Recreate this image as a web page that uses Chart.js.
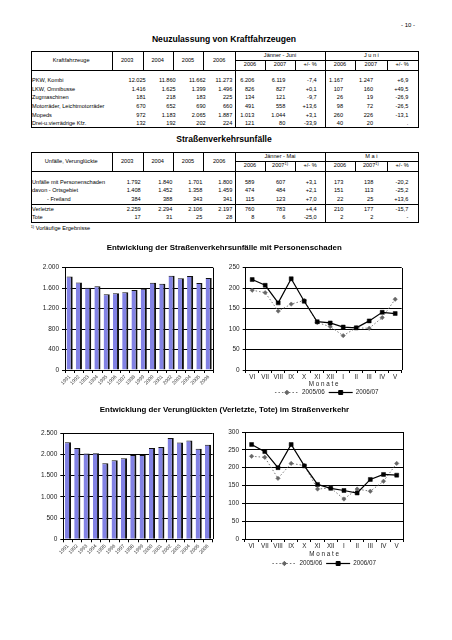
<!DOCTYPE html>
<html><head><meta charset="utf-8">
<script src="https://cdn.jsdelivr.net/npm/chart.js@4.4.1/dist/chart.umd.min.js"></script>
<style>
html,body{margin:0;padding:0;background:#fff;}
body{width:452px;height:640px;position:relative;overflow:hidden;font-family:"Liberation Sans",Arial,sans-serif;color:#000;}
.t{position:absolute;white-space:nowrap;line-height:1;}
.ln{position:absolute;background:#000;}
canvas{position:absolute;}
sup{font-size:70%;vertical-align:top;position:relative;top:-1px;}
</style></head><body>
<canvas id="cA" width="230" height="150" style="left:0;top:250px;"></canvas>
<canvas id="cB" width="230" height="160" style="left:222px;top:250px;"></canvas>
<canvas id="cC" width="230" height="160" style="left:0;top:420px;"></canvas>
<canvas id="cD" width="230" height="160" style="left:222px;top:420px;"></canvas>
<script>
// ---------- DATA ----------
const years = ['1991','1992','1993','1994','1995','1996','1997','1998','1999','2000','2001','2002','2003','2004','2005','2006'];
const unfaelleJahr = [1830,1712,1610,1635,1480,1500,1518,1562,1590,1707,1688,1843,1792,1840,1701,1800];
const verunglueckteJahr = [2280,2150,2020,2025,1790,1860,1905,1985,1980,2145,2170,2380,2276,2325,2131,2225];
const months = ['VI','VII','VIII','IX','X','XI','XII','I','II','III','IV','V'];
const unfaelle0506 = [195,189,144,161,170,116,106,84,103,102,128,173];
const unfaelle0607 = [221,207,164,223,168,118,115,105,103,120,141,138];
const verungl0506 = [232,229,170,212,206,140,143,112,140,134,162,212];
const verungl0607 = [265,245,200,265,205,153,142,136,129,167,181,179];
const seriesLabels = ['2005/06','2006/07'];

const kfzHead = ['2003','2004','2005','2006'];
const kfzLabels = ['PKW, Kombi','LKW, Omnibusse','Zugmaschinen','Motorräder, Leichtmotorräder','Mopeds','Drei-u.vierrädrige Kfz.'];
const kfzValues = [
 ['12.025','11.860','11.662','11.273','6.206','6.119','-7,4','1.167','1.247','+6,9'],
 ['1.416','1.625','1.399','1.496','826','827','+0,1','107','160','+49,5'],
 ['181','218','183','225','134','121','-9,7','26','19','-26,9'],
 ['670','652','690','660','491','558','+13,6','98','72','-26,5'],
 ['972','1.183','2.065','1.887','1.013','1.044','+3,1','260','226','-13,1'],
 ['132','192','202','224','121','80','-33,9','40','20','.']
];
const unfLabels = ['Unfälle mit Personenschaden','davon - Ortsgebiet','- Freiland','Verletzte','Tote'];
const unfValues = [
 ['1.792','1.840','1.701','1.800','589','607','+3,1','173','138','-20,2'],
 ['1.408','1.452','1.358','1.459','474','484','+2,1','151','113','-25,2'],
 ['384','388','343','341','115','123','+7,0','22','25','+13,6'],
 ['2.259','2.294','2.106','2.197','760','783','+4,4','210','177','-15,7'],
 ['17','31','25','28','8','6','-25,0','2','2','-']
];

// ---------- PAGE TEXT / TABLES ----------
const FAM = "'Liberation Sans', Arial, sans-serif";
function T(html, x, y, size, align, bold, extra){
  const d = document.createElement('div');
  d.className = 't';
  d.innerHTML = html;
  d.style.fontSize = size + 'px';
  d.style.top = (y - size*0.49) + 'px';
  if (bold) d.style.fontWeight = 'bold';
  if (align === 'right') { d.style.right = (452 - x) + 'px'; }
  else if (align === 'center') { d.style.left = x + 'px'; d.style.transform = 'translateX(-50%)'; }
  else d.style.left = x + 'px';
  if (extra) Object.assign(d.style, extra);
  document.body.appendChild(d);
}
function L(x, y, w, h){
  const d = document.createElement('div'); d.className = 'ln';
  d.style.left = x + 'px'; d.style.top = y + 'px'; d.style.width = w + 'px'; d.style.height = h + 'px';
  document.body.appendChild(d);
}
const colX = [30.7,111.7,142.7,172.7,203.3,235,265,295,325,355,386.7,417.7];

function table(o){
  const {top, sub, hb, bottom, headLabel, p1, p2, sup, rowY, labels, values, rightX, labelX, sep} = o;
  const fs = 5.6;
  L(colX[0], top, colX[11]-colX[0], 1);
  L(colX[0], bottom, colX[11]-colX[0]+1, 1);
  L(colX[0], top, 1, bottom-top);
  L(colX[11], top, 1, bottom-top);
  L(colX[0], hb, colX[11]-colX[0], 1);
  L(colX[5], sub, colX[11]-colX[5], 1);
  for (const i of [1,2,3,4]) L(colX[i], top, 1, hb-top);
  for (const i of [5,8]) L(colX[i], top, 1, bottom-top);
  for (const i of [6,7,9,10]) L(colX[i], sub, 1, hb-sub);
  if (sep) L(colX[0], sep, colX[11]-colX[0], 1);
  const mid = (top+hb)/2, m1 = (top+sub)/2, m2 = (sub+hb)/2;
  T(headLabel, (colX[0]+colX[1])/2, mid, fs, 'center');
  kfzHead.forEach((h,i)=>T(h, (colX[i+1]+colX[i+2])/2, mid, fs, 'center'));
  T(p1, (colX[5]+colX[8])/2, m1, fs, 'center');
  T(p2, (colX[8]+colX[11])/2, m1, fs, 'center');
  const subh = ['2006', '2007'+(sup?'<sup>1)</sup>':''), '+/- %'];
  for (let k=0;k<2;k++) subh.forEach((h,i)=>T(h, (colX[5+3*k+i]+colX[6+3*k+i])/2, m2, fs, 'center'));
  labels.forEach((lb,r)=>{
    T(lb, labelX[r], rowY[r], fs, 'left');
    values[r].forEach((v,c)=>T(v, rightX[c], rowY[r], fs, 'right'));
  });
}

T('- 10 -', 415, 25, 6, 'right');
T('Neuzulassung von Kraftfahrzeugen', 224, 39.5, 8.6, 'center', true);
table({top:50.7, sub:60, hb:70, bottom:127.3, headLabel:'Kraftfahrzeuge', p1:'Jänner - Juni', p2:'J u n i', sup:false,
  rowY:[81,89.6,98.2,106.8,115.4,124], labels:kfzLabels, values:kfzValues,
  rightX:[145.7,175.7,205.7,232.3,254.3,285.3,316.7,343,373,408.3], labelX:[32,32,32,32,32,32]});
T('Straßenverkehrsunfälle', 224, 139.3, 8.6, 'center', true);
table({top:151.7, sub:161, hb:171, bottom:222.3, headLabel:'Unfälle, Verunglückte', p1:'Jänner - Mai', p2:'M a i', sup:true,
  rowY:[182.3,190.7,199.3,209.3,217.7], labels:unfLabels, values:unfValues, sep:204.3,
  rightX:[140.7,172.3,202.3,232.3,254.3,285.3,316.7,343.3,373.3,408.3], labelX:[32,32,47,32,32]});
T('<sup>1)</sup> Vorläufige Ergebnisse', 30.7, 229, 5.6, 'left');
T('Entwicklung der Straßenverkehrsunfälle mit Personenschaden', 224.2, 248.3, 7.9, 'center', true);
T('Entwicklung der Verunglückten (Verletzte, Tote) im Straßenverkehr', 224.5, 410, 7.9, 'center', true);

// ---------- CHARTS ----------
const fmt = v => v >= 1000 ? Math.floor(v/1000) + '.' + String(v%1000).padStart(3,'0') : String(v);
const frame = {id:'frame', afterDraw(chart){
  const {ctx, chartArea:a} = chart;
  ctx.save(); ctx.strokeStyle = '#000'; ctx.lineWidth = 1;
  const x = Math.round(a.right) + 0.5;
  ctx.beginPath(); ctx.moveTo(x, Math.round(a.top)); ctx.lineTo(x, Math.round(a.bottom)); ctx.stroke();
  ctx.restore();
}};
const lineLegend = {id:'lineLegend', afterDraw(chart, args, opts){
  const {ctx, chartArea:a} = chart;
  const y = Math.round(chart.scales.x.bottom + opts.dy) + 0.5;
  ctx.save();
  ctx.font = '6.3px ' + FAM; ctx.textBaseline = 'middle'; ctx.fillStyle = '#222';
  const dss = chart.data.datasets;
  const ws = dss.map(d=>ctx.measureText(d.label).width);
  const seg = opts.seg, gap = 3, between = 4;
  const total = ws.reduce((s,w)=>s+seg+gap+w,0) + between*(dss.length-1);
  let x = (a.left+a.right)/2 - total/2 + opts.dx;
  dss.forEach((d,i)=>{
    ctx.strokeStyle = d.borderColor; ctx.lineWidth = d.borderWidth; ctx.setLineDash(d.borderDash || []);
    ctx.beginPath(); ctx.moveTo(x, y); ctx.lineTo(x+seg, y); ctx.stroke(); ctx.setLineDash([]);
    ctx.fillStyle = d.pointBackgroundColor; ctx.strokeStyle = d.pointBorderColor; ctx.lineWidth = 1;
    Chart.helpers.drawPoint(ctx, {pointStyle:d.pointStyle, radius:d.pointRadius, borderWidth:1, rotation:0}, x+seg/2, y);
    x += seg + gap;
    ctx.fillStyle = '#222'; ctx.fillText(d.label, x, y);
    x += ws[i] + between;
  });
  ctx.restore();
}};

function barChart(id, data, max, step, pad, yW, xH){
  new Chart(document.getElementById(id), {
    type:'bar',
    data:{labels:years, datasets:[{data, backgroundColor:'#8282e4', borderColor:'#111',
      borderWidth:{top:1,right:2,left:0,bottom:0}, borderSkipped:false, barPercentage:0.66, categoryPercentage:1}]},
    options:{
      responsive:false, animation:false, devicePixelRatio:1,
      layout:{padding:pad},
      plugins:{legend:{display:false}, tooltip:{enabled:false}},
      scales:{
        x:{grid:{display:true, drawOnChartArea:false, drawTicks:true, tickLength:3, color:'#000', offset:true},
           border:{display:true, color:'#000'},
           ticks:{font:{size:5, family:FAM}, color:'#333', minRotation:45, maxRotation:45, autoSkip:false, padding:1},
           afterFit:s=>{s.height = xH;}},
        y:{min:0, max, ticks:{stepSize:step, font:{size:6.5, family:FAM}, color:'#222', padding:3, callback:v=>fmt(v)},
           grid:{color:'#000', lineWidth:1, tickLength:3}, border:{display:true, color:'#000'},
           afterFit:s=>{s.width = yW;}}
      }
    },
    plugins:[frame]
  });
}
function lineChart(id, a, b, max, pad, yW, xH, leg){
  new Chart(document.getElementById(id), {
    type:'line',
    data:{labels:months, datasets:[
      {label:seriesLabels[0], data:a, order:1, borderColor:'#777', borderWidth:1, borderDash:[1.5,2],
       pointStyle:'rectRot', pointRadius:2.2, pointBackgroundColor:'#666', pointBorderColor:'#666', pointBorderWidth:0.5, tension:0},
      {label:seriesLabels[1], data:b, order:0, borderColor:'#000', borderWidth:1.2,
       pointStyle:'rect', pointRadius:2.8, pointBackgroundColor:'#000', pointBorderColor:'#000', pointBorderWidth:0.5, tension:0}
    ]},
    options:{
      responsive:false, animation:false, devicePixelRatio:1,
      layout:{padding:pad},
      plugins:{legend:{display:false}, tooltip:{enabled:false}, lineLegend:leg},
      scales:{
        x:{offset:true, grid:{display:true, drawOnChartArea:false, drawTicks:true, tickLength:3, color:'#000', offset:true},
           border:{display:true, color:'#000'},
           ticks:{font:{size:6.3, family:FAM}, color:'#222', maxRotation:0, autoSkip:false, padding:0},
           title:{display:true, text:'M o n a t e', font:{size:6.3, family:FAM}, color:'#222', padding:0},
           afterFit:s=>{s.height = xH;}},
        y:{min:0, max, ticks:{stepSize:50, font:{size:6.5, family:FAM}, color:'#222', padding:3},
           grid:{color:'#000', lineWidth:1, tickLength:3}, border:{display:true, color:'#000'},
           afterFit:s=>{s.width = yW;}}
      }
    },
    plugins:[frame, lineLegend]
  });
}

barChart('cA', unfaelleJahr, 2000, 400, {top:17.7, right:16.7, left:0, bottom:0}, 65, 30);
lineChart('cB', unfaelle0506, unfaelle0607, 250, {top:17.7, right:50.3, left:0, bottom:22}, 23.7, 18, {dy:4, dx:3, seg:24});
barChart('cC', verunglueckteJahr, 2500, 500, {top:13, right:17.3, left:0, bottom:0}, 63.3, 40.7);
lineChart('cD', verungl0506, verungl0607, 300, {top:12, right:48.7, left:0, bottom:22}, 23, 19, {dy:4.5, dx:0, seg:24});
</script>
</body></html>
